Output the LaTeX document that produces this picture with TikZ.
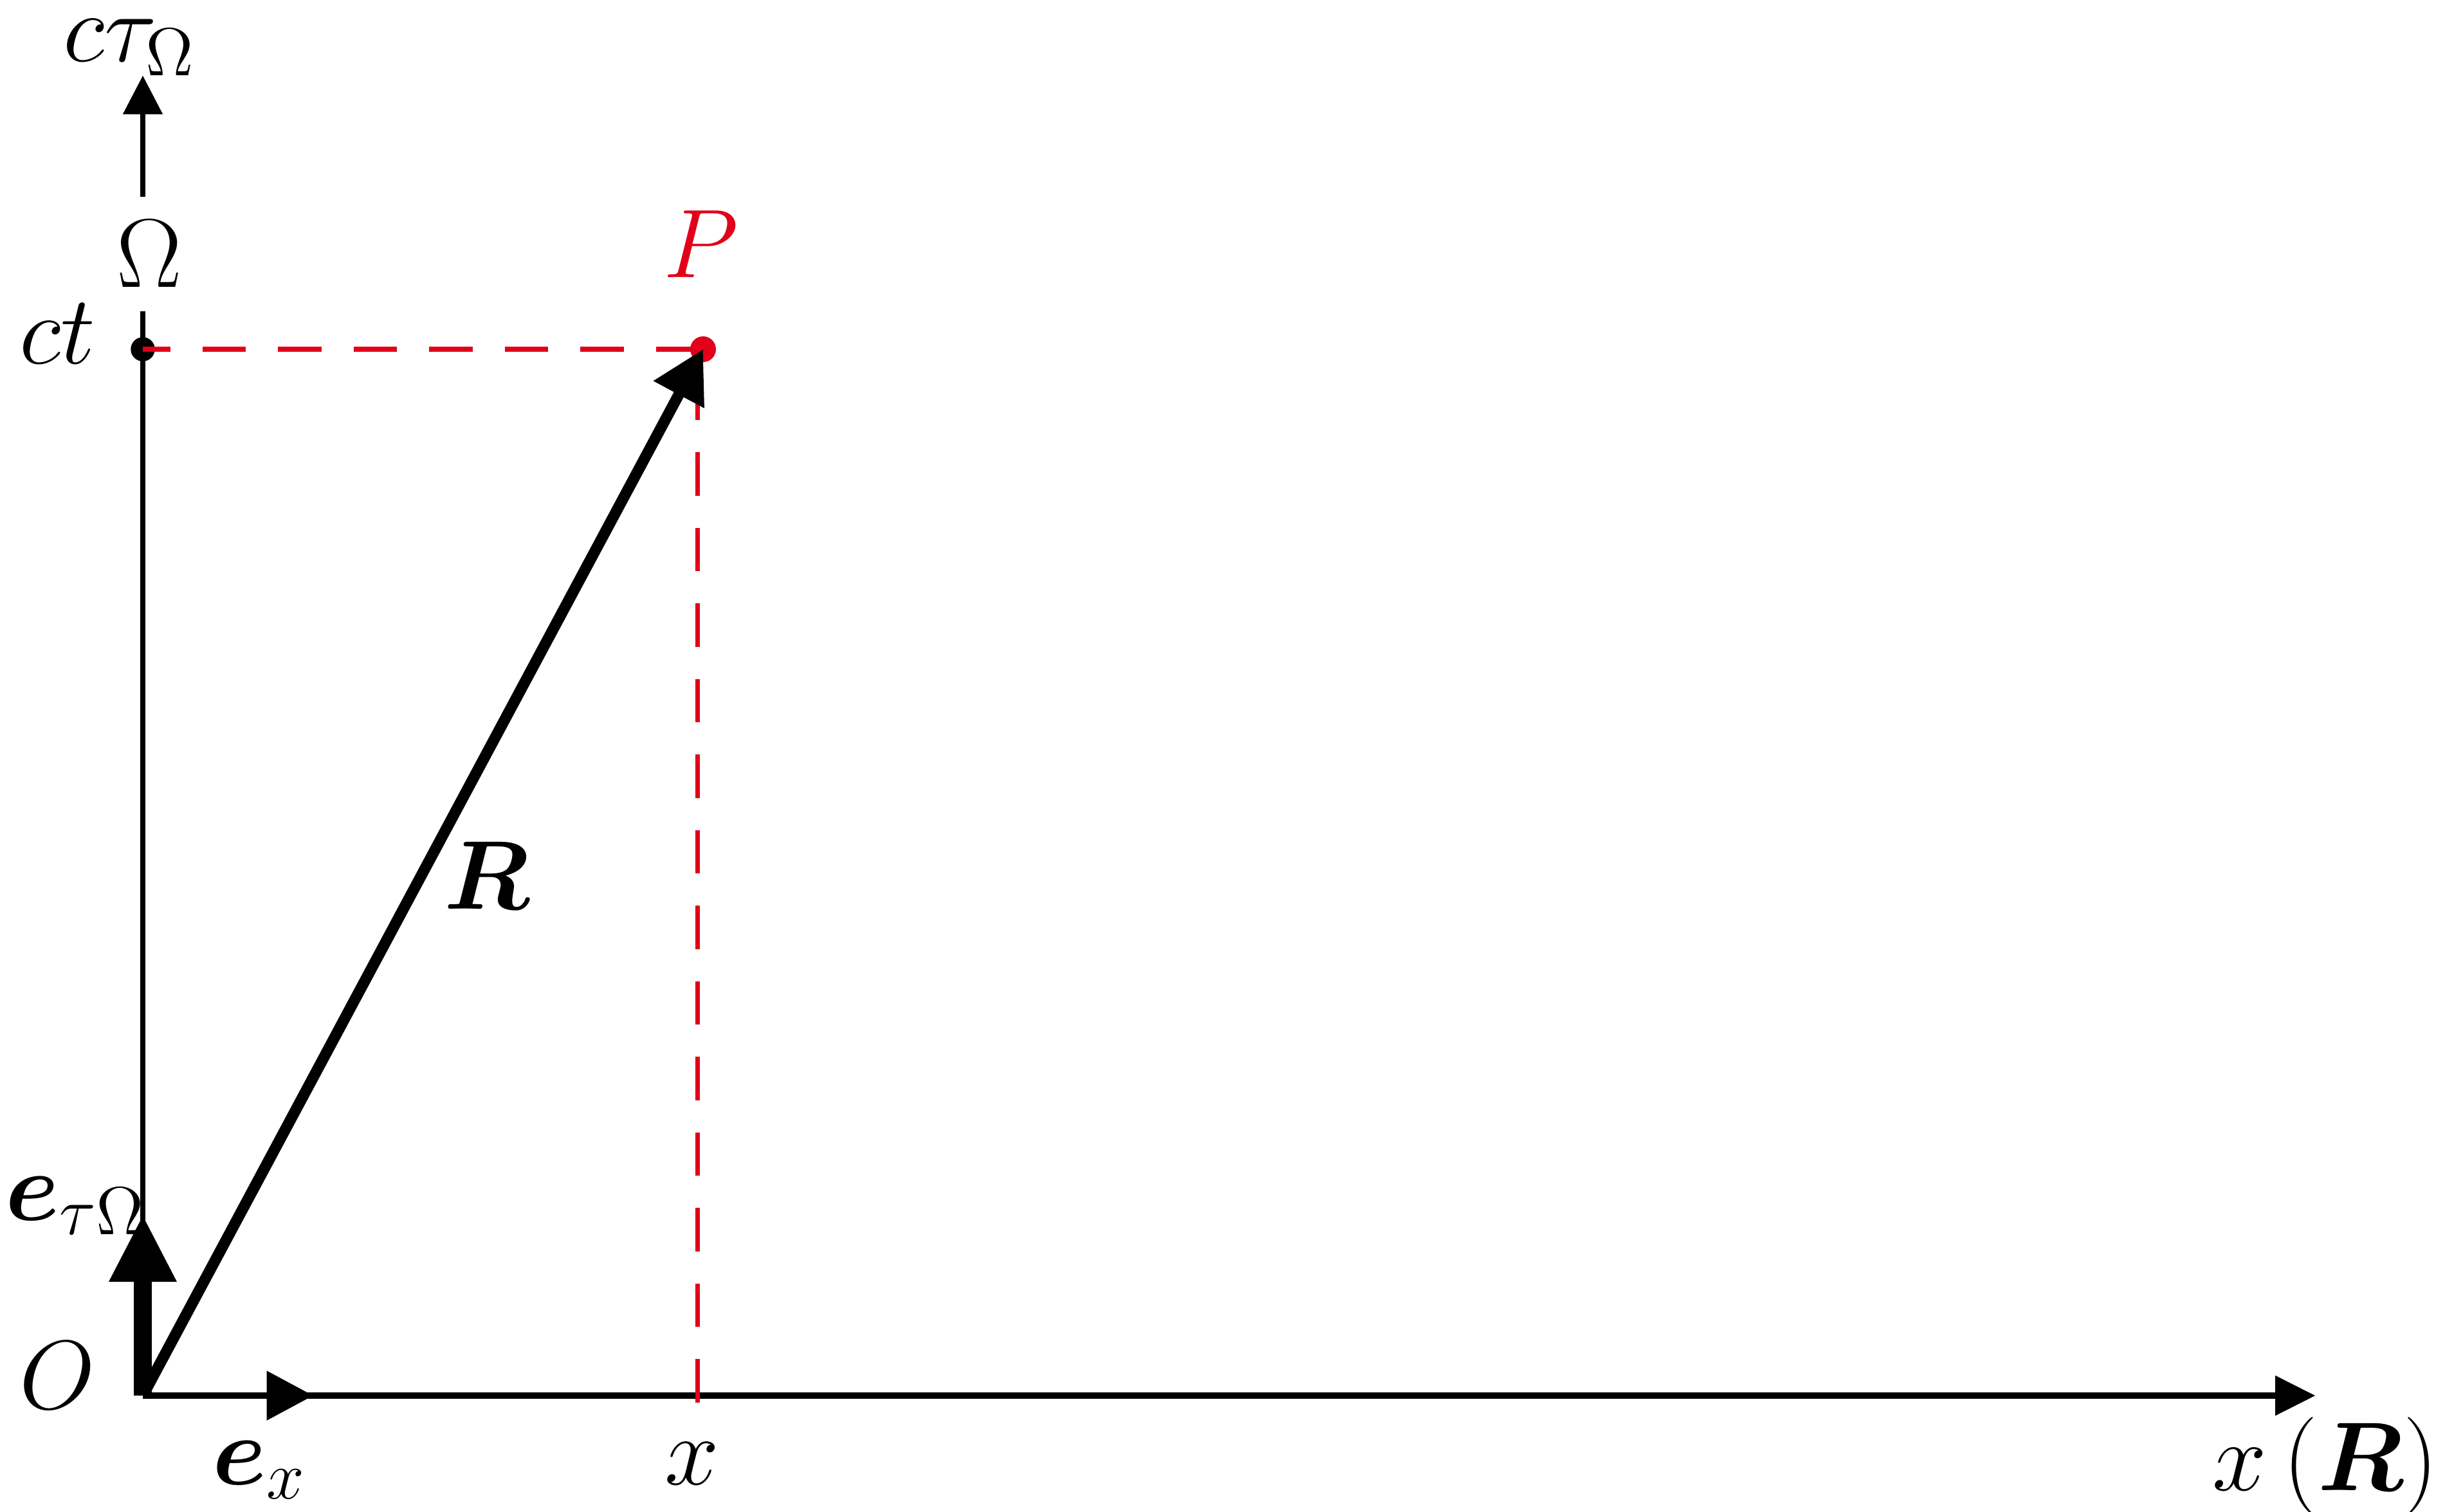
\documentclass[tikz,border=0pt]{standalone}
\usepackage{tikz}
\usepackage{amsmath}
\usetikzlibrary{arrows.meta}
\definecolor{pred}{RGB}{226,0,26}

\begin{document}
\begin{tikzpicture}[
    lbl/.style={font=\LARGE, inner sep=0pt, anchor=base},
    axisline/.style={line width=0.9pt},
    guide/.style={pred, line width=0.9pt, dash pattern=on 0.27cm off 0.2cm}
  ]
                    \useasboundingbox (-0.888,-0.72) rectangle (14.316,8.68);
                    \coordinate (O) at (0,0);
                    \coordinate (xend) at (13.51,0);
                    \coordinate (yend) at (0,8.21);
                    \coordinate (ct) at (0,6.508);
                    \coordinate (P) at (3.484,6.508);
                    \coordinate (xfoot) at (3.45,-0.09);
                    \coordinate (ex) at (1.06,0);
                    \coordinate (etau) at (0,1.128);
                    \node[lbl, anchor=center, inner sep=0.14cm] (Om) at (0.04,7.1) {$\Omega$};
                    \draw[axisline] (O) -- (O |- Om.south);
                    \draw[axisline, -{Triangle[length=0.24cm,width=0.24cm]}] (O |- Om.north) -- (yend);
                    \draw[line width=1.1pt, -{Triangle[length=0.25cm,width=0.24cm]}] (O) -- (xend);
                    \fill (ct) circle [radius=0.075cm];
                    \draw[guide, dash phase=0.1cm] (ct) -- (P);
                    \draw[guide, dash phase=0.3cm] (P -| xfoot) -- (xfoot);
                    \fill[pred] (P) circle [radius=0.08cm];
                    \draw[line width=1.1pt, -{Triangle[length=0.29cm,width=0.3cm]}] (O) -- (ex);
                    \draw[line width=3.2pt, -{Triangle[length=0.42cm,width=0.39cm]}] (O) -- (etau);
                    \draw[line width=1.95pt, -{Triangle[length=0.32cm,width=0.34cm]}] (O) -- (P);
                    \node[lbl] (ctau) at (-0.08,8.3) {$c\tau_{\Omega}$};
                    \node[lbl] (ctlbl) at (-0.53,6.42) {$ct$};
                    \node[lbl, pred] (Plbl) at (3.47,6.956) {$P$};
                    \node[lbl] (Rlbl) at (2.14,3.028) {$\boldsymbol{R}$};
                    \node[lbl, anchor=base west] (etlbl) at (-0.86,1.092) {$\boldsymbol{e}_{\tau\Omega}$};
                    \node[lbl] (Olbl) at (-0.53,-0.08) {$O$};
                    \node[lbl] (exlbl) at (0.728,-0.552) {$\boldsymbol{e}_x$};
                    \node[lbl] (xlbl) at (3.416,-0.552) {$x$};
                    \node[lbl, anchor=base east] (xRlbl) at (14.28,-0.588) {$x\,(\boldsymbol{R})$};
\end{tikzpicture}
\end{document}
